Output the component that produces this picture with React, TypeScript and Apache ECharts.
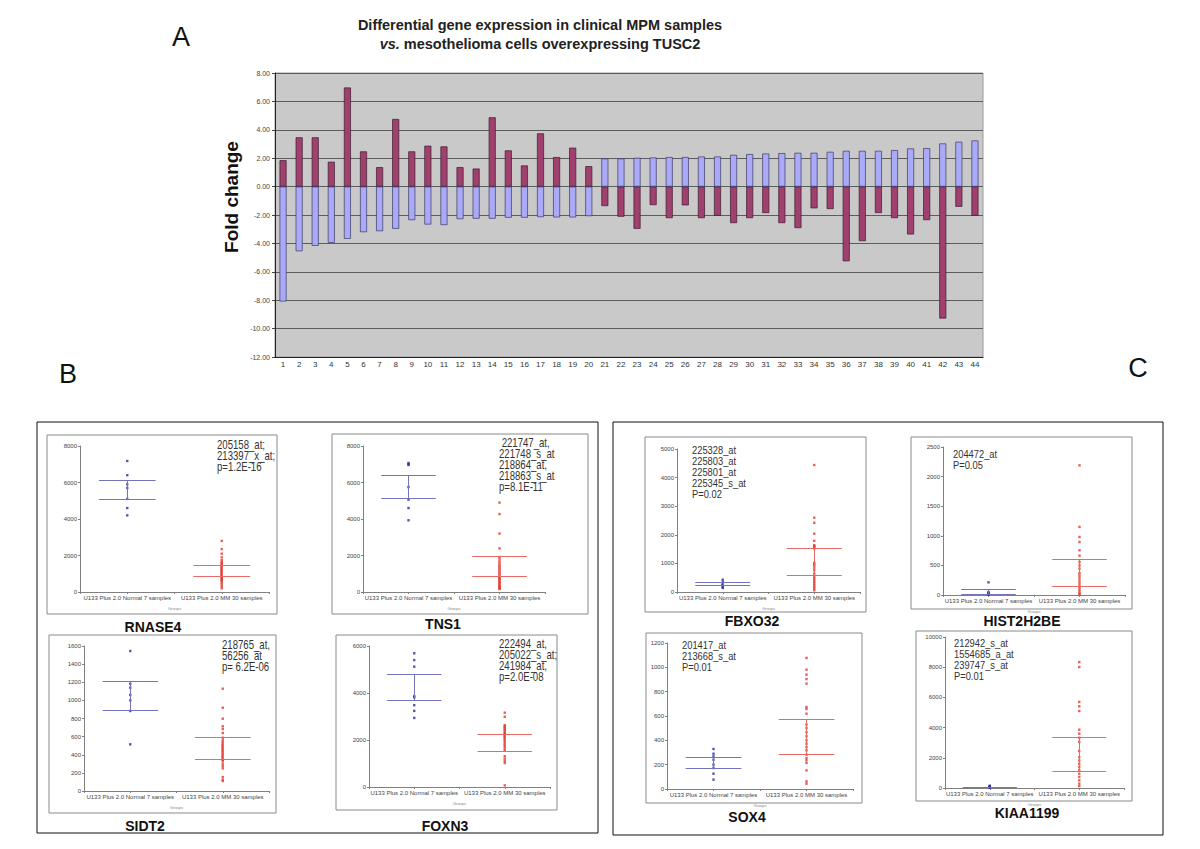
import React, { useEffect, useRef } from "react";
import * as echarts from "echarts";

const FONT = "'Liberation Sans', Arial, Helvetica, sans-serif";

// ---------- Panel A data ----------
const geneIndex = [
  "1", "2", "3", "4", "5", "6", "7", "8", "9", "10", "11", "12", "13", "14", "15",
  "16", "17", "18", "19", "20", "21", "22", "23", "24", "25", "26", "27", "28", "29",
  "30", "31", "32", "33", "34", "35", "36", "37", "38", "39", "40", "41", "42", "43", "44",
];
const redFold = [
  1.86, 3.47, 3.47, 1.75, 6.98, 2.48, 1.37, 4.76, 2.48, 2.88, 2.83, 1.37, 1.27, 4.88, 2.55,
  1.49, 3.75, 2.08, 2.74, 1.44, -1.37, -2.12, -2.97, -1.3, -2.22, -1.32, -2.22, -2.05, -2.57,
  -2.22, -1.86, -2.57, -2.92, -1.53, -1.58, -5.26, -3.84, -1.86, -2.22, -3.37, -2.36, -9.29,
  -1.42, -2.05,
];
const blueFold = [
  -8.09, -4.55, -4.17, -3.96, -3.68, -3.21, -3.14, -2.97, -2.36, -2.67, -2.71, -2.29, -2.26,
  -2.26, -2.19, -2.19, -2.15, -2.17, -2.17, -2.08, 1.98, 1.98, 2.03, 2.05, 2.08, 2.08, 2.12,
  2.12, 2.24, 2.29, 2.33, 2.36, 2.38, 2.38, 2.45, 2.52, 2.52, 2.52, 2.57, 2.69, 2.71, 3.04,
  3.16, 3.25,
];

// ---------- Panels B / C data ----------
const groupLabels = ["U133 Plus 2.0 Normal 7 samples", "U133 Plus 2.0 MM 30 samples"];

const rnase4Normal = [7180, 6400, 5900, 5700, 5100, 4600, 4200];
const rnase4MM = [2800, 2350, 2100, 1900, 1750, 1650, 1580, 1520, 1460, 1400, 1350, 1300, 1250, 1200, 1150, 1100, 1050, 1000, 950, 900, 850, 800, 750, 700, 650, 600, 500, 400, 300, 200];
const rnase4NormalLines = [6130, 5090];
const rnase4MMLines = [1490, 890];
const rnase4Note = "205158_at;\n213397_x_at;\np=1.2E-16";

const tns1Normal = [7070, 7000, 6960, 5750, 5060, 4600, 3930];
const tns1MM = [4900, 4270, 3200, 2390, 1920, 1830, 1700, 1600, 1500, 1420, 1350, 1280, 1200, 1120, 1050, 980, 900, 830, 760, 700, 640, 580, 520, 460, 400, 340, 290, 240, 200, 160];
const tns1NormalLines = [6390, 5110];
const tns1MMLines = [1970, 880];
const tns1Note = " 221747_at,\n221748_s_at\n218864_at,\n218863_s_at\np=8.1E-11";

const sidt2Normal = [1545, 1184, 1140, 1060, 1000, 883, 515];
const sidt2MM = [1129, 919, 798, 714, 684, 640, 588, 559, 540, 522, 505, 493, 480, 467, 455, 441, 425, 412, 395, 382, 370, 357, 345, 331, 302, 276, 250, 154, 125, 110];
const sidt2NormalLines = [1206, 890];
const sidt2MMLines = [588, 346];
const sidt2Note = "218765_at,\n56256_at\np= 6.2E-06";

const foxn3Normal = [5690, 5400, 5120, 3870, 3810, 3480, 3240, 2940];
const foxn3MM = [3160, 2990, 2630, 2580, 2530, 2480, 2420, 2360, 2300, 2250, 2200, 2150, 2100, 2050, 1990, 1920, 1850, 1780, 1710, 1620, 1540, 1310, 1210, 1110, 1020, 70];
const foxn3NormalLines = [4810, 3700];
const foxn3MMLines = [2230, 1540];
const foxn3Note = "222494_at,\n205022_s_at;\n241984_at,\np=2.0E-08";

const fbxo32Normal = [430, 350, 290, 250, 230, 175, 140];
const fbxo32MM = [4440, 2600, 2420, 2040, 1790, 1640, 1600, 1580, 1520, 1020, 970, 930, 850, 760, 640, 530, 470, 410, 350, 290, 230, 175, 120, 60];
const fbxo32NormalLines = [340, 220];
const fbxo32MMLines = [1520, 570];
const fbxo32Note = "225328_at\n225803_at\n225801_at\n225345_s_at\nP=0.02";

const hist2h2beNormal = [214, 50, 34, 23, 11, 5];
const hist2h2beMM = [2190, 1150, 980, 895, 755, 665, 557, 500, 445, 372, 332, 293, 248, 203, 163, 124, 90, 56, 23, 10];
const hist2h2beNormalLines = [90, 15];
const hist2h2beMMLines = [597, 146];
const hist2h2beNote = "204472_at\nP=0.05";

const sox4Normal = [329, 290, 268, 241, 200, 173, 126, 77];
const sox4MM = [1077, 981, 940, 904, 866, 674, 658, 619, 529, 501, 466, 433, 400, 373, 345, 318, 282, 255, 236, 214, 153, 63, 44];
const sox4NormalLines = [260, 167];
const sox4MMLines = [575, 282];
const sox4Note = "201417_at\n213668_s_at\nP=0.01";

const kiaa1199Normal = [150, 110, 90, 70, 50, 40, 30];
const kiaa1199MM = [8340, 8010, 5700, 5410, 5100, 3860, 3600, 3330, 3050, 2450, 2050, 1830, 1610, 1390, 1170, 950, 730, 510, 290, 130];
const kiaa1199NormalLines = [70, 30];
const kiaa1199MMLines = [3380, 1100];
const kiaa1199Note = "212942_s_at\n1554685_a_at\n239747_s_at\nP=0.01";

// ---------- layout (positions / styles only) ----------
const panels = [
  { gene: "RNASE4", normal: rnase4Normal, mm: rnase4MM, nl: rnase4NormalLines, ml: rnase4MMLines, note: rnase4Note, yMax: 8000, yStep: 2000,
    grid: [80, 446, 189, 146], frame: [47, 435, 230, 179], label: [153, 627], noteAt: [217, 439], noteSize: 12, noteScale: 0.8 },
  { gene: "TNS1", normal: tns1Normal, mm: tns1MM, nl: tns1NormalLines, ml: tns1MMLines, note: tns1Note, yMax: 8000, yStep: 2000,
    grid: [363, 446, 182, 146], frame: [332, 434, 256, 180], label: [443, 624], noteAt: [499, 437], noteSize: 12, noteScale: 0.8 },
  { gene: "SIDT2", normal: sidt2Normal, mm: sidt2MM, nl: sidt2NormalLines, ml: sidt2MMLines, note: sidt2Note, yMax: 1600, yStep: 200,
    grid: [84, 646, 185, 145], frame: [49, 635, 227, 178], label: [145, 826], noteAt: [222, 639], noteSize: 12, noteScale: 0.8 },
  { gene: "FOXN3", normal: foxn3Normal, mm: foxn3MM, nl: foxn3NormalLines, ml: foxn3MMLines, note: foxn3Note, yMax: 6000, yStep: 2000,
    grid: [369, 646, 181, 141], frame: [336, 635, 221, 175], label: [445, 826], noteAt: [499, 638], noteSize: 12, noteScale: 0.8 },
  { gene: "FBXO32", normal: fbxo32Normal, mm: fbxo32MM, nl: fbxo32NormalLines, ml: fbxo32MMLines, note: fbxo32Note, yMax: 5000, yStep: 1000,
    grid: [677, 449, 183, 143], frame: [645, 437, 221, 175], label: [752, 621], noteAt: [692, 445], noteSize: 11, noteScale: 0.85 },
  { gene: "HIST2H2BE", normal: hist2h2beNormal, mm: hist2h2beMM, nl: hist2h2beNormalLines, ml: hist2h2beMMLines, note: hist2h2beNote, yMax: 2500, yStep: 500,
    grid: [943, 447, 182, 148], frame: [911, 437, 221, 172], label: [1022, 621], noteAt: [953, 449], noteSize: 11, noteScale: 0.85 },
  { gene: "SOX4", normal: sox4Normal, mm: sox4MM, nl: sox4NormalLines, ml: sox4MMLines, note: sox4Note, yMax: 1200, yStep: 200,
    grid: [667, 643, 186, 146], frame: [646, 633, 216, 170], label: [747, 817], noteAt: [682, 640], noteSize: 11, noteScale: 0.85 },
  { gene: "KIAA1199", normal: kiaa1199Normal, mm: kiaa1199MM, nl: kiaa1199NormalLines, ml: kiaa1199MMLines, note: kiaa1199Note, yMax: 10000, yStep: 2000,
    grid: [945, 637, 179, 151], frame: [916, 631, 216, 170], label: [1027, 813], noteAt: [954, 638], noteSize: 11, noteScale: 0.85 },
];

const BLUE_PT = "#2c2c9c";
const RED_PT = "#e2382c";
const BLUE_LN = "#7474bc";
const RED_LN = "#e86a64";

function buildOption() {
  const grids: any[] = [
    { left: 275, top: 73, width: 708, height: 284, show: true, backgroundColor: "#c9c9c9", borderColor: "#9a9a9a", borderWidth: 1 },
  ];
  const xAxes: any[] = [
    {
      type: "category", gridIndex: 0, data: geneIndex,
      axisLine: { onZero: false, lineStyle: { color: "#222", width: 1 } },
      axisTick: { length: 15, lineStyle: { color: "#444" } },
      axisLabel: { fontSize: 8, color: "#333", margin: 3, interval: 0, fontFamily: FONT },
    },
  ];
  const yAxes: any[] = [
    {
      type: "value", gridIndex: 0, min: -12, max: 8, interval: 2,
      axisLabel: { formatter: (v: number) => v.toFixed(2), fontSize: 7, color: "#444", margin: 5, fontFamily: FONT },
      axisLine: { show: true, lineStyle: { color: "#222" } },
      axisTick: { show: true, length: 3, lineStyle: { color: "#444" } },
      splitLine: { lineStyle: { color: "#5c5c5c", width: 1 } },
    },
  ];
  const series: any[] = [
    {
      type: "bar", xAxisIndex: 0, yAxisIndex: 0, data: redFold, barWidth: 7, barGap: "-100%",
      itemStyle: { color: "#a0406e", borderColor: "#3c1a2c", borderWidth: 0.7 },
    },
    {
      type: "bar", xAxisIndex: 0, yAxisIndex: 0, data: blueFold, barWidth: 7, barGap: "-100%",
      itemStyle: { color: "#aaaaf8", borderColor: "#3a3a66", borderWidth: 0.7 },
    },
  ];

  const H = 0.3;
  const linesFor = (c: number, l: number[]) => [
    [{ coord: [c - H, l[0]] }, { coord: [c + H, l[0]] }],
    [{ coord: [c - H, l[1]] }, { coord: [c + H, l[1]] }],
    [{ coord: [c, l[0]] }, { coord: [c, l[1]] }],
  ];

  panels.forEach((p, i) => {
    const gi = i + 1;
    grids.push({ left: p.grid[0], top: p.grid[1], width: p.grid[2], height: p.grid[3] });
    xAxes.push({
      type: "value", gridIndex: gi, min: 0, max: 2, interval: 0.5,
      name: "Groups", nameLocation: "middle", nameGap: 14,
      nameTextStyle: { fontSize: 4, color: "#888", fontFamily: FONT },
      axisLine: { lineStyle: { color: "#808080" } },
      axisTick: { show: true, length: 2, lineStyle: { color: "#808080" } },
      axisLabel: {
        fontSize: 6, color: "#444", margin: 3, fontFamily: FONT, showMinLabel: true, showMaxLabel: true,
        formatter: (v: number) => (v === 0.5 ? groupLabels[0] : v === 1.5 ? groupLabels[1] : ""),
      },
      splitLine: { show: false },
    });
    yAxes.push({
      type: "value", gridIndex: gi, min: 0, max: p.yMax, interval: p.yStep,
      axisLine: { show: true, lineStyle: { color: "#808080" } },
      axisTick: { show: true, length: 2, lineStyle: { color: "#808080" } },
      axisLabel: { fontSize: 6, color: "#444", margin: 3, fontFamily: FONT, formatter: (v: number) => String(v) },
      splitLine: { show: false },
    });
    series.push({
      type: "scatter", xAxisIndex: gi, yAxisIndex: gi, symbol: "rect", symbolSize: 2.4,
      itemStyle: { color: BLUE_PT }, data: p.normal.map((v) => [0.5, v]),
      markLine: { silent: true, symbol: "none", label: { show: false }, lineStyle: { color: BLUE_LN, width: 1, type: "solid" }, data: linesFor(0.5, p.nl) },
    });
    series.push({
      type: "scatter", xAxisIndex: gi, yAxisIndex: gi, symbol: "rect", symbolSize: 2.4,
      itemStyle: { color: RED_PT }, data: p.mm.map((v) => [1.5, v]),
      markLine: { silent: true, symbol: "none", label: { show: false }, lineStyle: { color: RED_LN, width: 1, type: "solid" }, data: linesFor(1.5, p.ml) },
    });
  });

  const graphic: any[] = [
    { type: "text", x: 181, y: 37, style: { text: "A", fontSize: 27, fontFamily: FONT, fill: "#111", textAlign: "center", textVerticalAlign: "middle" } },
    { type: "text", x: 68, y: 374, style: { text: "B", fontSize: 27, fontFamily: FONT, fill: "#111", textAlign: "center", textVerticalAlign: "middle" } },
    { type: "text", x: 1138, y: 368, style: { text: "C", fontSize: 27, fontFamily: FONT, fill: "#111", textAlign: "center", textVerticalAlign: "middle" } },
    { type: "text", x: 540, y: 25, style: { text: "Differential gene expression in clinical MPM samples", fontSize: 14.5, fontWeight: "bold", fontFamily: FONT, fill: "#222", textAlign: "center", textVerticalAlign: "middle" } },
    {
      type: "text", x: 540, y: 44,
      style: {
        text: "{i|vs.}{b| mesothelioma cells overexpressing TUSC2}",
        rich: {
          i: { fontSize: 14.5, fontWeight: "bold", fontStyle: "italic", fontFamily: FONT, fill: "#222" },
          b: { fontSize: 14.5, fontWeight: "bold", fontFamily: FONT, fill: "#222" },
        },
        fontSize: 14.5, fontWeight: "bold", fontFamily: FONT, fill: "#222", textAlign: "center", textVerticalAlign: "middle",
      },
    },
    { type: "text", x: 231, y: 197, rotation: Math.PI / 2, style: { text: "Fold change", fontSize: 19, fontWeight: "bold", fontFamily: FONT, fill: "#111", textAlign: "center", textVerticalAlign: "middle" } },
    { type: "rect", shape: { x: 37, y: 422, width: 561, height: 411 }, style: { fill: "none", stroke: "#111", lineWidth: 1 } },
    { type: "rect", shape: { x: 613, y: 422, width: 550, height: 413 }, style: { fill: "none", stroke: "#111", lineWidth: 1 } },
  ];
  panels.forEach((p) => {
    graphic.push({ type: "rect", shape: { x: p.frame[0], y: p.frame[1], width: p.frame[2], height: p.frame[3] }, style: { fill: "none", stroke: "#8a8a8a", lineWidth: 1 } });
    graphic.push({ type: "text", x: p.label[0], y: p.label[1], style: { text: p.gene, fontSize: 14, fontWeight: "bold", fontFamily: FONT, fill: "#111", textAlign: "center", textVerticalAlign: "middle" } });
    graphic.push({
      type: "text", x: p.noteAt[0], y: p.noteAt[1], scaleX: p.noteScale,
      style: { text: p.note, fontSize: p.noteSize, lineHeight: 11, fontFamily: FONT, fill: "#333", textAlign: "left", textVerticalAlign: "top" },
    });
  });

  return {
    animation: false,
    backgroundColor: "#ffffff",
    grid: grids,
    xAxis: xAxes,
    yAxis: yAxes,
    series,
    graphic,
  };
}

export default function App() {
  const ref = useRef<HTMLDivElement>(null);
  useEffect(() => {
    const chart = echarts.init(ref.current as HTMLDivElement, null, { renderer: "svg" });
    chart.setOption(buildOption() as any);
    return () => chart.dispose();
  }, []);
  return (
    <div
      ref={ref}
      style={{ position: "absolute", left: 0, top: 0, width: 1200, height: 849, background: "#fff" }}
    />
  );
}
